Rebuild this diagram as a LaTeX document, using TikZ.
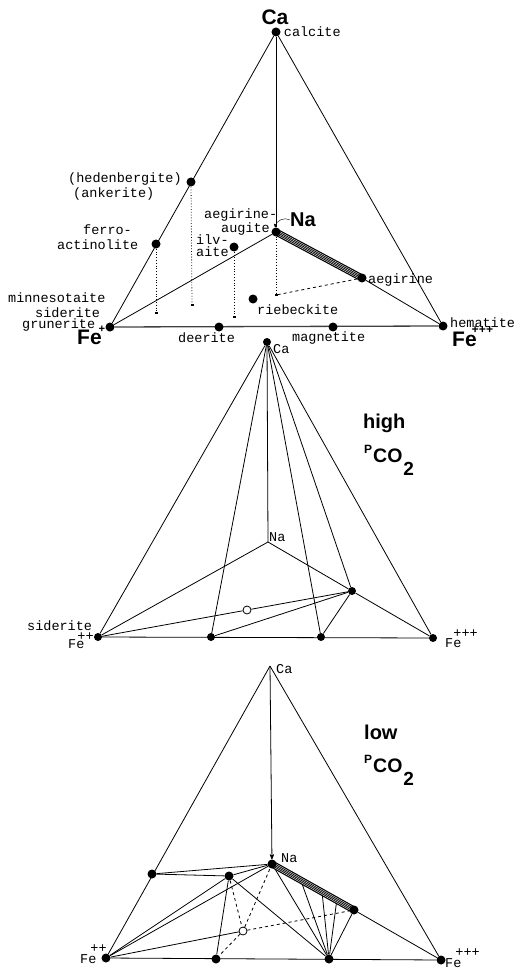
\documentclass[tikz,border=0pt]{standalone}
\usepackage{fontspec}
\setmonofont{Liberation Mono}
\setsansfont{Liberation Sans}
\usetikzlibrary{arrows,calc,positioning,backgrounds}
\tikzset{
    dot/.style =    {circle,
                    fill=black,
                    inner sep=0pt,
                    minimum size=9pt},
    smalldot/.style = {dot,
                    minimum size=8pt},
    hollow/.style = {circle,
                    fill=white,
                    draw=black,
                    thick,
                    inner sep=0pt,
                    minimum size=8pt},
    foot/.style =   {rectangle,
                    fill=black,
                    inner sep=0pt,
                    minimum width=3pt,
                    minimum height=1.5pt},
    mineral/.style = {inner sep=0pt,
                    anchor=west,
                    font=\ttfamily\fontsize{13.5}{14}\selectfont},
    element/.style = {inner sep=0pt,
                    font=\sffamily\bfseries\fontsize{21}{22}\selectfont},
    -,
    tie/.style =    {line width=0.8pt},
    base/.style =   {line width=1.3pt, draw=black!75},
    proj/.style =   {line width=0.8pt, dotted},
    band/.style =   {line width=7pt, line cap=round},
    stripe/.style = {line width=0.35pt, draw=white},
    >=stealth'}
\newcommand{\chg}[3]{\kern#1\raisebox{#2}{#3}}
\newcommand{\pco}{{\fontsize{12}{12}\selectfont P}\kern1pt\raisebox{-9pt}{\fontsize{19.5}{19.5}\selectfont CO}\kern1pt\raisebox{-22pt}{\fontsize{19}{19}\selectfont 2}}

\begin{document}
\begin{tikzpicture}[x=1pt,y=-1pt]
    \useasboundingbox (0,0) rectangle (525,968);

    % ---- top: Ca - Fe++ - Fe+++ - Na
    \node[dot]      (Ca1)   at (276,32)     {};
    \node[dot]      (Fe2a)  at (110,327)    {};
    \node[dot]      (Fe3a)  at (443,326)    {};
    \node[dot]      (Na1)   at (276,232)    {};
    \node[dot]      (hed1)  at (191,182)    {};
    \node[dot]      (fact1) at (156,244)    {};
    \node[dot]      (ilv1)  at (234,247)    {};
    \node[dot]      (aeg1)  at (362,278)    {};
    \node[dot]      (rieb1) at (253,299)    {};
    \node[dot]      (deer1) at (219,327)    {};
    \node[dot]      (magn1) at (333,327)    {};
    \node[foot]     (hedP)  at (192,305)    {};
    \node[foot]     (factP) at (156,313)    {};
    \node[foot]     (ilvP)  at (234,317)    {};
    \node[foot]     (NaP)   at (276,295)    {};

    \node[element]  (CaL1)  at (275,17)     {Ca};
    \node[element, anchor=west, font=\sffamily\bfseries\fontsize{20}{20}\selectfont]
                    (NaL1)  at (290,220)    {Na};
    \node[element, anchor=base west] (FeL2a) at (77,344)
                    {Fe\chg{-3pt}{12pt}{\ttfamily\fontsize{11}{11}\selectfont ++}};
    \node[element, anchor=base west] (FeL3a) at (452,346)
                    {Fe\chg{-5pt}{12.5pt}{\ttfamily\fontsize{12}{12}\selectfont +++}};
    \node[mineral]  [right=3pt of Ca1]      {calcite};
    \node[mineral]  at (68,179)             {(hedenbergite)};
    \node[mineral]  at (73,194)             {(ankerite)};
    \node[mineral]  at (83,230)             {ferro-};
    \node[mineral]  at (57,245)             {actinolite};
    \node[mineral]  at (204,215)            {aegirine-};
    \node[mineral]  at (221,229)            {augite};
    \node[mineral]  at (196,240)            {ilv-};
    \node[mineral]  at (196,252)            {aite};
    \node[mineral]  at (368,280)            {aegirine};
    \node[mineral]  at (257,310)            {riebeckite};
    \node[mineral]  at (8,298)              {minnesotaite};
    \node[mineral]  at (35,313)             {siderite};
    \node[mineral]  at (22,325)             {grunerite};
    \node[mineral]  at (450,323)            {hematite};
    \node[mineral]  at (178,338)            {deerite};
    \node[mineral]  at (292,338)            {magnetite};

    % ---- middle: high pCO2
    \node[smalldot] (Ca2)   at (267,342)    {};
    \coordinate     (Na2)   at (268,542);
    \node[smalldot] (Fe2b)  at (98,637)     {};
    \node[smalldot] (deer2) at (211,637)    {};
    \node[smalldot] (magn2) at (321,637)    {};
    \node[smalldot] (Fe3b)  at (433,638)    {};
    \node[smalldot] (aeg2)  at (352,591)    {};
    \node[hollow]   (oc2)   at (247,610)    {};

    \node[mineral]  at (273,349)            {Ca};
    \node[mineral]  at (269,537)            {Na};
    \node[mineral]  at (27,626)             {siderite};
    \node[mineral, anchor=base west] at (68,648) {Fe\chg{-7pt}{7.5pt}{++}};
    \node[mineral, anchor=base west] at (445,647) {Fe\chg{-8pt}{9.5pt}{+++}};
    \node[element, anchor=base west, font=\sffamily\bfseries\fontsize{20}{20}\selectfont]
                    at (363,428)            {high};
    \node[element, anchor=base west] at (364,453) {\pco};

    % ---- bottom: low pCO2
    \coordinate     (Ca3)   at (270,666);
    \node[dot]      (Na3)   at (272,864)    {};
    \node[dot]      (Fe2c)  at (106,958)    {};
    \node[dot]      (Fe3c)  at (441,960)    {};
    \node[dot]      (fact3) at (152,874)    {};
    \node[dot]      (ilv3)  at (229,876)    {};
    \node[dot]      (aeg3)  at (354,910)    {};
    \node[dot]      (deer3) at (216,959)    {};
    \node[dot]      (magn3) at (329,959)    {};
    \node[hollow]   (oc3)   at (243,931)    {};
    \coordinate     (b1)    at ($(Na3)!0.35!(aeg3)$);
    \coordinate     (b2)    at ($(Na3)!0.61!(aeg3)$);
    \coordinate     (b3)    at ($(Na3)!0.79!(aeg3)$);

    \node[mineral]  at (276,669)            {Ca};
    \node[mineral]  at (281,858)            {Na};
    \node[mineral, anchor=base west] at (80,963) {Fe\chg{-6pt}{10.5pt}{++}};
    \node[mineral, anchor=base west] at (445,967) {Fe\chg{-6pt}{10.5pt}{+++}};
    \node[element, anchor=base west, font=\sffamily\bfseries\fontsize{20}{20}\selectfont]
                    at (364,739)            {low};
    \node[element, anchor=base west] at (364,763) {\pco};

    \begin{scope}[on background layer]
        % top
        \path [tie]     (Ca1)   edge    (Fe2a)
                        (Ca1)   edge    (Fe3a)
                        (Ca1)   edge    (Na1)
                        (Fe2a)  edge    (Na1)
                        (aeg1)  edge    (Fe3a);
        \path [base]    (Fe2a)  edge    (Fe3a);
        \path [proj]    (hed1)  edge    (hedP)
                        (fact1) edge    (factP)
                        (ilv1)  edge    (ilvP)
                        (Na1)   edge    (NaP);
        \path [tie, dashed] (NaP) edge  (aeg1);
        \draw [band]    (Na1.center) -- (aeg1.center);
        \foreach \o in {-2.1,-0.7,0.7,2.1}
            \draw [stripe] ($(Na1.center)!\o pt!90:(aeg1.center)$)
                        -- ($(aeg1.center)!\o pt!-90:(Na1.center)$);
        \draw [->, thin] (NaL1.west) to [bend right=60] (Na1);

        % middle
        \path [tie]     (Ca2)   edge    (Fe2b)
                        (Ca2)   edge    (Fe3b)
                        (Ca2)   edge    (Na2)
                        (Ca2)   edge    (deer2)
                        (Ca2)   edge    (magn2)
                        (Ca2)   edge    (aeg2)
                        (Fe2b)  edge    (Fe3b)
                        (Fe2b)  edge    (Na2)
                        (Na2)   edge    (aeg2)
                        (aeg2)  edge    (Fe3b)
                        (Fe2b)  edge    (oc2)
                        (oc2)   edge    (aeg2)
                        (deer2) edge    (aeg2)
                        (magn2) edge    (aeg2);

        % bottom
        \path [tie]     (Ca3)   edge    (Fe2c)
                        (Ca3)   edge    (Fe3c)
                        (Fe2c)  edge    (Fe3c)
                        (Ca3)   edge [->] (Na3)
                        (fact3) edge    (Na3)
                        (fact3) edge    (ilv3)
                        (Fe2c)  edge    (ilv3)
                        (Fe2c)  edge    (Na3)
                        (Fe2c)  edge    (oc3)
                        (ilv3)  edge    (Na3)
                        (ilv3)  edge    (deer3)
                        (ilv3)  edge    (magn3)
                        (magn3) edge    (Na3)
                        (magn3) edge    (b1)
                        (magn3) edge    (b2)
                        (magn3) edge    (b3)
                        (magn3) edge    (aeg3)
                        (aeg3)  edge    (Fe3c);
        \path [tie, dashed] (oc3) edge  (aeg3)
                        (ilv3)  edge    (oc3)
                        (oc3)   edge    (Na3)
                        (oc3)   edge    (deer3);
        \draw [band]    (Na3.center) -- (aeg3.center);
        \foreach \o in {-2.1,-0.7,0.7,2.1}
            \draw [stripe] ($(Na3.center)!\o pt!90:(aeg3.center)$)
                        -- ($(aeg3.center)!\o pt!-90:(Na3.center)$);
    \end{scope}
\end{tikzpicture}
\end{document}
